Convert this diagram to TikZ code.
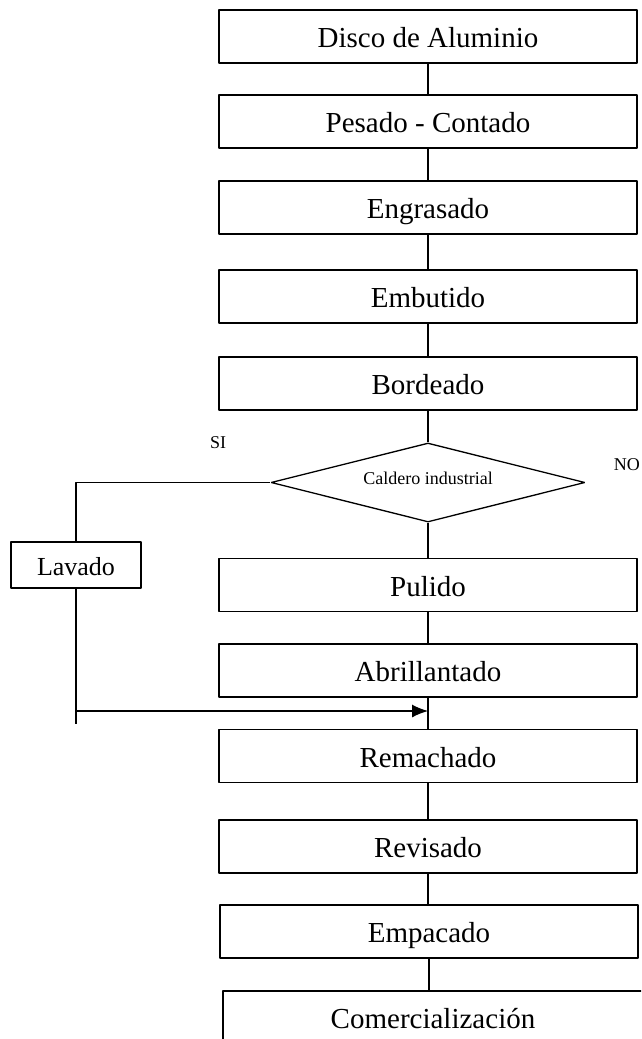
\documentclass[tikz,border=0pt]{standalone}
\usepackage{fontspec}
\setmainfont{Liberation Serif}
\usetikzlibrary{arrows.meta, shapes, positioning}
\tikzset{procnode/.style={rectangle, draw=black, line width=1.2pt, minimum width=418pt, minimum height=53pt, inner sep=0pt, text height=22pt, text depth=0pt, font=\fontsize{29}{33}\selectfont}}

\begin{document}
\begin{tikzpicture}[
        line join=bevel,
        procnode/.style={rectangle, draw=black, line width=1.3pt, minimum width=418pt, minimum height=53pt, inner sep=0pt, text height=22pt, text depth=0pt, font=\fontsize{29}{33}\selectfont},
        decisionnode/.style={shape=diamond, draw=black, line width=1.3pt, minimum width=314pt, minimum height=79pt, inner sep=0pt, aspect=4, text height=12pt, text depth=8pt, font=\fontsize{18}{21}\selectfont},
        sidenode/.style={rectangle, draw=black, line width=1.3pt, minimum width=130pt, minimum height=46pt, inner sep=0pt, text height=20pt, text depth=0pt, font=\fontsize{26}{30}\selectfont},
        answernode/.style={inner sep=0pt, text height=12pt, text depth=0pt, font=\fontsize{18}{21}\selectfont},
        link/.style={draw=black, line width=1.2pt}
    ]
        \useasboundingbox (0pt, 0pt) rectangle (641pt, -1039pt);
        \clip (0pt, 0pt) rectangle (641pt, -1039pt);
        % Process boxes
        \node[procnode] (disco) at (428pt, -36.5pt) {Disco de Aluminio};
        \node[procnode] (pesado) at (428pt, -121.5pt) {Pesado - Contado};
        \node[procnode] (engrasado) at (428pt, -207.5pt) {Engrasado};
        \node[procnode] (embutido) at (428pt, -296.5pt) {Embutido};
        \node[procnode] (bordeado) at (428pt, -383.5pt) {Bordeado};
        \node[decisionnode] (caldero) at (428pt, -482.5pt) {Caldero industrial};
        \node[procnode] (pulido) at (428pt, -585pt) {Pulido};
        \node[procnode] (abrillantado) at (428pt, -670.5pt) {Abrillantado};
        \node[procnode] (remachado) at (428pt, -756pt) {Remachado};
        \node[procnode] (revisado) at (428pt, -846.5pt) {Revisado};
        \node[procnode] (empacado) at (429pt, -931.5pt) {Empacado};
        \node[procnode, minimum width=420pt] (comercializacion) at (433pt, -1017.5pt) {Comercialización};
        % Side branch
        \node[sidenode] (lavado) at (76pt, -565pt) {Lavado};
        \node[answernode] (silabel) at (218pt, -442.5pt) {SI};
        \node[answernode, anchor=east] (nolabel) at (640pt, -464pt) {NO};
        \coordinate (lavadoend) at (76pt, -724pt);
        \coordinate (join) at (428pt, -711pt);
        % Lines
        \foreach \a/\b in {
            disco/pesado,
            pesado/engrasado,
            engrasado/embutido,
            embutido/bordeado,
            bordeado/caldero,
            caldero/pulido,
            pulido/abrillantado,
            abrillantado/remachado,
            remachado/revisado,
            revisado/empacado,
            empacado/comercializacion} {
            \draw[link] (\a.south) -- (\a.south |- \b.north);
        }
        \draw[link] (caldero.west) -| (lavado.north);
        \draw[link] (lavado.south) -- (lavadoend);
        \draw[link, -{Latex[length=16pt, width=13pt]}] (lavadoend |- join) -- (join);
    \end{tikzpicture}
\end{document}
